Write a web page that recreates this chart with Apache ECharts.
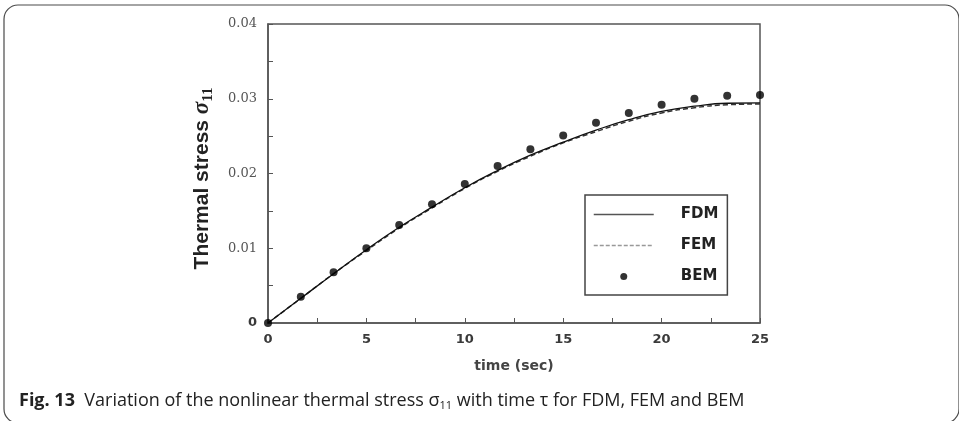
<!DOCTYPE html>
<html>
<head>
<meta charset="utf-8">
<script src="https://cdn.jsdelivr.net/npm/echarts@6/dist/echarts.min.js"></script>
<style>
html,body{margin:0;padding:0;background:#fff;}
#c{width:959px;height:421px;}
</style>
</head>
<body>
<div id="c"></div>
<script>
// time points (sec)
var times = [0, 1.667, 3.333, 5, 6.667, 8.333, 10, 11.667, 13.333, 15, 16.667, 18.333, 20, 21.667, 23.333, 25];
// FDM (solid line)
var fdm = [0, 0.0033, 0.0066, 0.0098, 0.0128, 0.0155, 0.0181, 0.0204, 0.02245, 0.0242, 0.0258, 0.0272, 0.0283, 0.0290, 0.0294, 0.02945];
// FEM (dashed line)
var fem = [0, 0.0033, 0.0066, 0.0097, 0.0127, 0.0154, 0.0180, 0.0203, 0.0223, 0.0241, 0.0256, 0.0270, 0.0281, 0.0288, 0.0292, 0.0293];
// BEM (points)
var bem = [0, 0.0035, 0.0068, 0.0100, 0.0131, 0.0159, 0.0186, 0.0210, 0.02325, 0.0251, 0.0268, 0.0281, 0.0292, 0.0300, 0.0304, 0.0305];
var seriesNames = ['FDM', 'FEM', 'BEM'];
var yTicks = [0, 0.01, 0.02, 0.03, 0.04];

function pairs(xs, ys){ return xs.map(function(x,i){ return [x, ys[i]]; }); }

var chart = echarts.init(document.getElementById('c'), null, {renderer:'canvas'});
chart.setOption({
  animation:false,
  backgroundColor:'#fff',
  graphic:[{
    type:'rect', left:1.5, top:2.5, z:-10,
    shape:{width:955, height:418, r:14},
    style:{fill:'none', stroke:'#4a4a4a', lineWidth:1.2}
  }],
  title:{
    left:14, top:385,
    text:'{b|Fig. 13}{n|  Variation of the nonlinear thermal stress σ}{s|11}{n| with time τ for FDM, FEM and BEM}',
    textStyle:{
      rich:{
        b:{fontFamily:'Open Sans', fontWeight:'bold', fontSize:18, color:'#222'},
        n:{fontFamily:'Open Sans', fontWeight:'normal', fontSize:18, color:'#222'},
        s:{fontFamily:'Open Sans', fontWeight:'normal', fontSize:11, color:'#222', padding:[10,0,0,0]}
      }
    }
  },
  grid:{left:268, right:199, top:24, bottom:98, show:true, borderColor:'#555', borderWidth:1.5, backgroundColor:'transparent'},
  legend:{
    orient:'vertical', left:585, top:195,
    backgroundColor:'#fff', borderColor:'#444', borderWidth:1.5, borderRadius:0,
    padding:[12,9,11,8],
    itemWidth:60, itemHeight:7, itemGap:16,
    textStyle:{fontFamily:'DejaVu Sans', fontWeight:'bold', fontSize:15, color:'#222', padding:[0,0,0,22]},
    data:[
      {name:'FDM', lineStyle:{color:'#555', width:1.5}},
      {name:'FEM', lineStyle:{color:'#999', width:1.5, type:[4,2]}},
      {name:'BEM', icon:'circle'}
    ]
  },
  xAxis:{
    type:'value', min:0, max:25, interval:5,
    name:'time (sec)', nameLocation:'middle', nameGap:36,
    nameTextStyle:{fontFamily:'DejaVu Sans', fontWeight:'bold', fontSize:14, color:'#444'},
    axisLine:{lineStyle:{color:'#555', width:1.5}},
    axisTick:{inside:true, length:5, lineStyle:{color:'#555'}},
    minorTick:{show:true, splitNumber:2, length:5, lineStyle:{color:'#555'}},
    axisLabel:{margin:10, fontFamily:'DejaVu Sans', fontWeight:'bold', fontSize:13, color:'#3a3a3a'},
    splitLine:{show:false}
  },
  yAxis:{
    type:'value', min:0, max:0.04, interval:0.01,
    name:'{t|Thermal stress }{g|σ}{s|11}', nameLocation:'middle', nameGap:52,
    nameTextStyle:{
      padding:[0,10,0,0],
      rich:{
        t:{fontFamily:'Liberation Sans', fontWeight:'bold', fontSize:21, color:'#222'},
        g:{fontFamily:'Liberation Serif', fontStyle:'italic', fontWeight:'bold', fontSize:23, color:'#222'},
        s:{fontFamily:'Liberation Serif', fontWeight:'bold', fontSize:15, color:'#222', padding:[12,0,0,0]}
      }
    },
    axisLine:{lineStyle:{color:'#555', width:1.5}},
    axisTick:{inside:true, length:5, lineStyle:{color:'#555'}},
    minorTick:{show:true, splitNumber:2, length:5, lineStyle:{color:'#555'}},
    axisLabel:{margin:11, fontFamily:'DejaVu Serif', fontSize:13, color:'#555',
      rich:{z:{fontFamily:'DejaVu Sans', fontWeight:'bold', fontSize:13, color:'#3a3a3a'}},
      formatter:function(v){
        var i = yTicks.indexOf(Math.round(v*100)/100);
        if (i < 0) return '';
        return yTicks[i] === 0 ? '{z|0}' : String(yTicks[i]);
      }},
    splitLine:{show:false}
  },
  series:[
    {name:seriesNames[0], type:'line', data:pairs(times, fdm), smooth:true, symbol:'none',
     lineStyle:{color:'#111', width:1.3}, itemStyle:{color:'rgba(0,0,0,0)'}, z:3},
    {name:seriesNames[1], type:'line', data:pairs(times, fem), smooth:true, symbol:'none',
     lineStyle:{color:'#333', width:1.5, type:[5,3]}, itemStyle:{color:'rgba(0,0,0,0)'}, z:2},
    {name:seriesNames[2], type:'scatter', data:pairs(times, bem), symbol:'circle', symbolSize:8,
     itemStyle:{color:'#000'}, z:4}
  ]
});
</script>
</body>
</html>
